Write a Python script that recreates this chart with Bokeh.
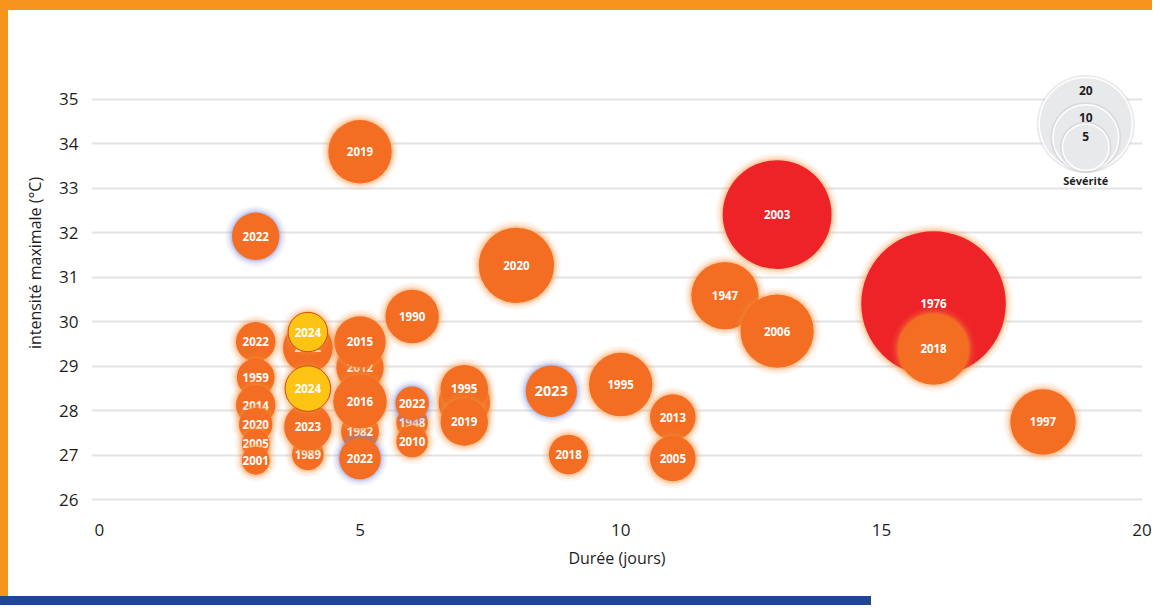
import numpy as np
from bokeh.plotting import figure
from bokeh.models import ColumnDataSource, CDSView, IndexFilter, FixedTicker, Range1d
from bokeh.core.properties import value
from bokeh.embed import file_html
from bokeh.resources import INLINE

# ---------------- data (drawing order) ----------------
annees = ["1976", "2018", "2003", "1947", "2006", "2020", "2019", "1997", "1995", "2013",
          "2005", "2018", "2023", "", "1995", "2019", "1990", "1948", "2022", "2010",
          "2012", "2015", "1982", "2016", "2022", "2022", "2024", "1989", "2023", "2024",
          "2022", "2022", "1959", "2014", "2020", "2005", "2001"]
duree = [16, 16, 13, 12, 13, 8, 5, 18.1, 10, 11,
         11, 9, 8.67, 7, 7, 7, 6, 6, 6, 6,
         5, 5, 5, 5, 5, 4, 4, 4, 4, 4,
         3, 3, 3, 3, 3, 3, 3]
intensite = [30.41, 29.39, 32.41, 30.59, 29.79, 31.27, 33.82, 27.75, 28.59, 27.86,
             26.93, 27.02, 28.44, 28.19, 28.50, 27.75, 30.12, 27.73, 28.17, 27.31,
             28.97, 29.55, 27.53, 28.21, 26.93, 29.42, 29.77, 27.02, 27.64, 28.50,
             31.92, 29.55, 28.75, 28.13, 27.69, 27.26, 26.88]
severite = [48.3, 11.8, 27.4, 10.5, 12.4, 13.1, 9.3, 9.9, 9.3, 4.8,
            4.8, 3.6, 6.1, 6.1, 5.2, 5.2, 6.6, 2.3, 2.6, 2.3,
            5.2, 6.1, 3.3, 6.6, 4.0, 5.7, 3.6, 2.3, 5.2, 4.8,
            5.2, 3.6, 3.3, 3.6, 2.6, 1.8, 1.8]
categorie = ["extreme", "chaud", "extreme", "chaud", "chaud", "chaud", "chaud", "chaud", "chaud", "chaud",
             "chaud", "chaud", "chaud", "chaud", "chaud", "chaud", "chaud", "chaud", "chaud", "chaud",
             "chaud", "chaud", "chaud", "chaud", "chaud", "chaud", "2024", "chaud", "chaud", "2024",
             "chaud", "chaud", "chaud", "chaud", "chaud", "chaud", "chaud"]
halo = ["orange"] * 37
for _k in (12, 18, 24, 30):
    halo[_k] = "bleu"

x_ticks = [0, 5, 10, 15, 20]
y_ticks = [26, 27, 28, 29, 30, 31, 32, 33, 34, 35]
legende_severite = [20, 10, 5]
titre_x = "Durée (jours)"
titre_y = "intensité maximale (°C)"
titre_legende = "Sévérité"

# ---------------- styling ----------------
ORANGE = "#F36D22"
ROUGE = "#ED2328"
JAUNE = "#FDC414"
fill_map = {"chaud": ORANGE, "extreme": ROUGE, "2024": JAUNE}
halo_map = {"orange": "#F7923A", "bleu": "#7D88D6"}
K = 10.4  # px radius per sqrt(severity)
FONT = "Open Sans"
TXT = "#1E1E24"

W, H = 1152, 605
LEFT, RIGHT, TOP, BOTTOM = 91, 10, 20, 100
x0, x1 = -0.1496, 20.008
y0, y1 = 25.874, 36.768
ppu_y = (H - TOP - BOTTOM) / (y1 - y0)

css_bg = ("linear-gradient(#F7941D,#F7941D) 0 0/100% 10px no-repeat, "
          "linear-gradient(#F7941D,#F7941D) 0 0/8px 596px no-repeat, "
          "linear-gradient(#1F468E,#1F468E) 0 100%/871px 9px no-repeat, #ffffff")

p = figure(width=W, height=H, x_range=Range1d(x0, x1), y_range=Range1d(y0, y1),
           output_backend="svg", toolbar_location=None,
           min_border_left=LEFT, min_border_right=RIGHT, min_border_top=TOP,
           min_border_bottom=BOTTOM, background_fill_alpha=0, border_fill_alpha=0,
           outline_line_color=None,
           styles={"background": css_bg})

p.xgrid.grid_line_color = None
p.ygrid.grid_line_color = "#E3E3E3"
p.ygrid.grid_line_width = 2
p.xaxis.ticker = FixedTicker(ticks=x_ticks)
p.yaxis.ticker = FixedTicker(ticks=y_ticks)
for ax in (p.xaxis, p.yaxis):
    ax.axis_line_color = None
    ax.major_tick_line_color = None
    ax.minor_tick_line_color = None
    ax.major_label_text_font = FONT
    ax.major_label_text_font_size = "17px"
    ax.major_label_text_color = TXT
    ax.axis_label_text_font = FONT
    ax.axis_label_text_font_size = "16px"
    ax.axis_label_text_font_style = "normal"
    ax.axis_label_text_color = TXT
p.xaxis.major_label_standoff = 12
p.yaxis.major_label_standoff = 7
p.xaxis.axis_label = titre_x
p.yaxis.axis_label = titre_y
p.xaxis.axis_label_standoff = 8
p.yaxis.axis_label_standoff = 10

# ---------------- bubbles ----------------
diam = 2 * K * np.sqrt(np.array(severite))
src = ColumnDataSource(dict(x=duree, y=intensite, annee=annees))
for i in range(len(annees)):
    v = CDSView(filter=IndexFilter([i]))
    hc = halo_map[halo[i]]
    for extra, a in ((14, 0.07), (10, 0.10), (6, 0.16), (3, 0.25)):
        p.scatter(x="x", y="y", source=src, view=v, size=float(diam[i] + extra),
                  fill_color=hc, fill_alpha=a, line_color=None)
    line = "#C8501A" if categorie[i] == "2024" else None
    p.scatter(x="x", y="y", source=src, view=v, size=float(diam[i]),
              fill_color=fill_map[categorie[i]], line_color=line, line_width=1)
    fs = "14.5px" if (annees[i] == "2023" and halo[i] == "bleu") else "11.5px"
    p.text(x="x", y="y", text="annee", source=src, view=v, text_color="white",
           text_font=value(FONT), text_font_style="bold", text_font_size=fs,
           text_align="center", text_baseline="middle")

# ---------------- severity legend ----------------
lx = 18.92
lbottom = 33.40
for s in legende_severite:
    r = K * np.sqrt(s)
    cy = lbottom + r / ppu_y
    p.scatter(x=[lx], y=[cy], size=2 * r + 5, fill_color="#B9BBC0", fill_alpha=0.30, line_color=None)
    p.scatter(x=[lx], y=[cy], size=2 * r, fill_color="#E8E9EB", line_color="#FFFFFF", line_width=1.5)
    p.text(x=[lx], y=[lbottom + (2 * r - 13) / ppu_y], text=[str(s)], text_color=TXT,
           text_font=value(FONT), text_font_style="bold", text_font_size="12px",
           text_align="center", text_baseline="middle")
p.text(x=[lx], y=[lbottom - 10 / ppu_y], text=[titre_legende], text_color=TXT,
       text_font=value(FONT), text_font_style="bold", text_font_size="11px",
       text_align="center", text_baseline="middle")

open("out.html", "w").write(file_html(p, INLINE))
